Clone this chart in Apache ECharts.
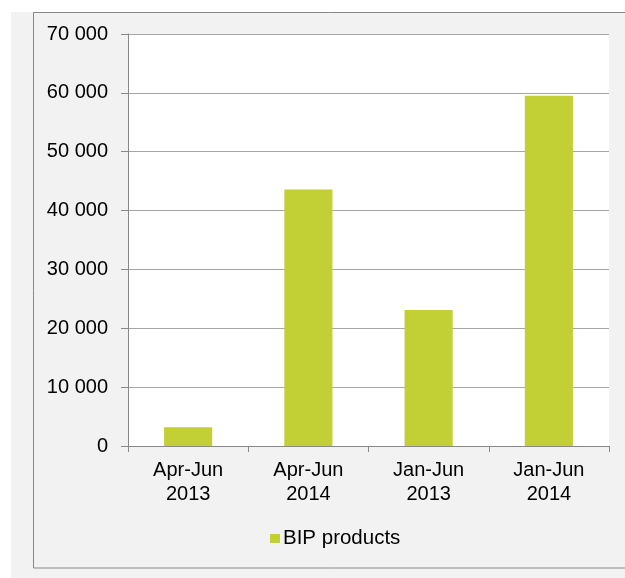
<!DOCTYPE html>
<html>
<head>
<meta charset="utf-8">
<script src="https://cdn.jsdelivr.net/npm/echarts@6/dist/echarts.min.js"></script>
<style>
html,body{margin:0;padding:0;background:#fff;}
#c{width:625px;height:578px;}
</style>
</head>
<body>
<div id="c"></div>
<script>
const categories = ['Apr-Jun\n2013', 'Apr-Jun\n2014', 'Jan-Jun\n2013', 'Jan-Jun\n2014'];
const bipValues = [3200, 43600, 23100, 59500];
const seriesName = 'BIP products';

const chart = echarts.init(document.getElementById('c'));
const font = 'Liberation Sans, Arial, sans-serif';
chart.setOption({
  backgroundColor: '#ffffff',
  animation: false,
  graphic: [
    { type: 'rect', z: -10, silent: true, shape: { x: 11, y: 12, width: 614, height: 566 }, style: { fill: '#f2f2f2' } },
    { type: 'rect', z: -9, silent: true, shape: { x: 33.5, y: 12.5, width: 620, height: 555.5 }, style: { fill: 'none', stroke: '#888888', lineWidth: 1 } }
  ],
  grid: {
    left: 128, top: 34, right: 16, bottom: 132,
    show: true, backgroundColor: '#ffffff', borderWidth: 0,
    containLabel: false
  },
  legend: {
    data: [seriesName],
    left: 270, top: 528,
    padding: 0,
    itemWidth: 10, itemHeight: 9, itemGap: 10,
    icon: 'rect',
    textStyle: { fontFamily: font, fontSize: 20.5, color: '#000', padding: [0, 0, 0, -2] }
  },
  xAxis: {
    type: 'category',
    data: categories,
    axisLine: { lineStyle: { color: '#888888', width: 1 } },
    axisTick: { show: true, length: 6, lineStyle: { color: '#888888' } },
    axisLabel: { fontFamily: font, fontSize: 20, color: '#000', lineHeight: 24, margin: 12, interval: 0 }
  },
  yAxis: {
    type: 'value',
    min: 0, max: 70000, interval: 10000,
    axisLine: { show: true, lineStyle: { color: '#888888', width: 1 } },
    axisTick: { show: true, length: 7, lineStyle: { color: '#888888' } },
    splitLine: { lineStyle: { color: '#a6a6a6', width: 1 } },
    axisLabel: {
      fontFamily: font, fontSize: 20, color: '#000', margin: 20,
      formatter: v => String(v).replace(/\B(?=(\d{3})+(?!\d))/g, ' ')
    }
  },
  series: [{
    name: seriesName,
    type: 'bar',
    data: bipValues,
    barWidth: '40%',
    itemStyle: { color: '#c2cf35' }
  }]
});
</script>
</body>
</html>
